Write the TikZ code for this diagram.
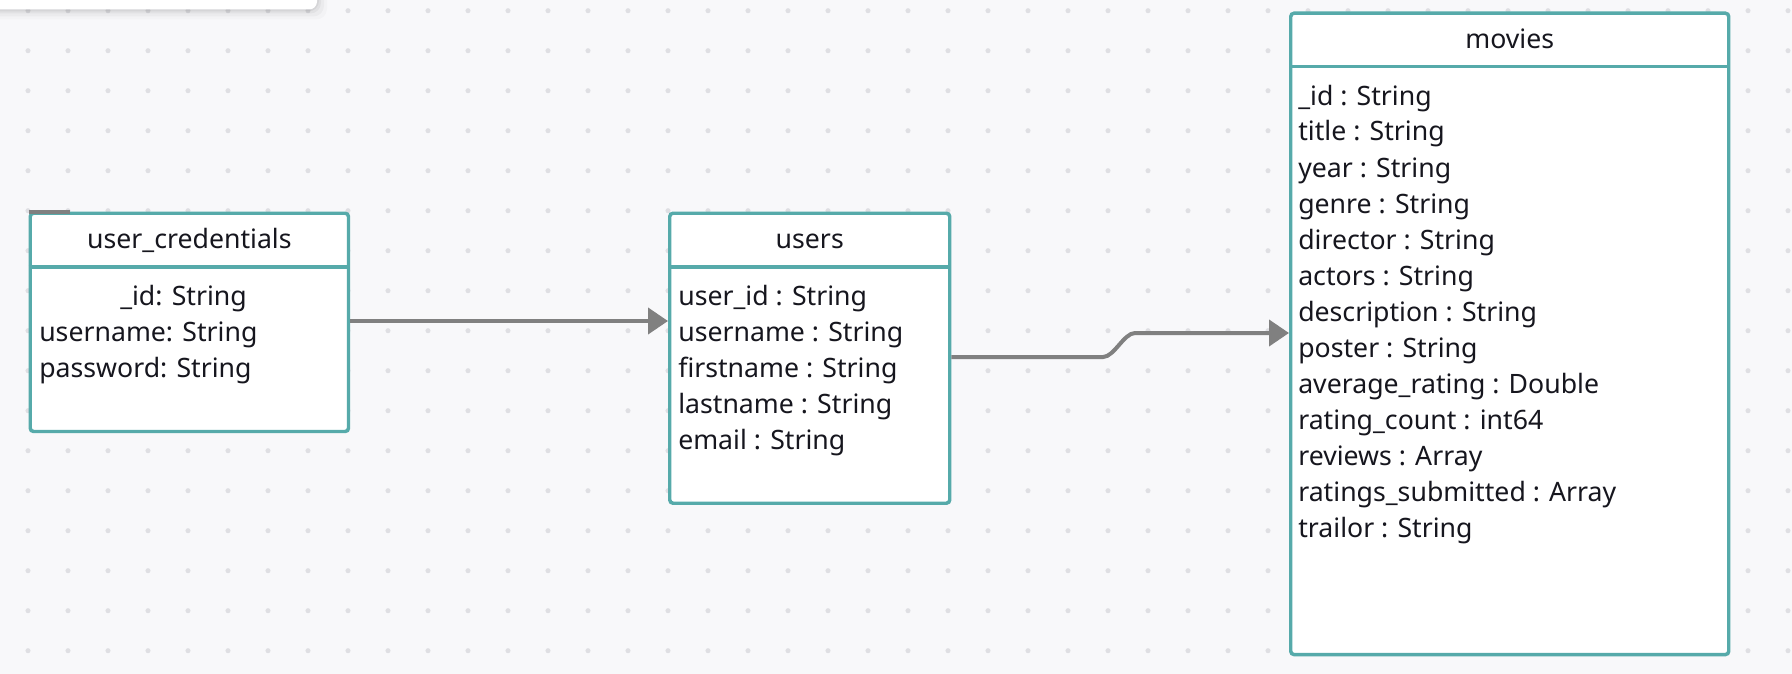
\documentclass[tikz,border=0pt]{standalone}
\usepackage{fontspec}
\setmainfont{Noto Sans}
\usetikzlibrary{arrows.meta}
\definecolor{bgc}{HTML}{F8F8FA}
\definecolor{dotc}{HTML}{DFDFE3}
\definecolor{tealc}{HTML}{56AAAA}
\definecolor{connc}{HTML}{808080}
\definecolor{txtc}{HTML}{16161E}
\begin{document}
\begin{tikzpicture}[x=0.75pt,y=-0.75pt,
  tbl/.style={draw=tealc, line width=2.6pt, fill=white, rounded corners=2.5pt, anchor=north west, inner sep=0pt},
  divline/.style={draw=tealc, line width=2.6pt},
  hdr/.style={anchor=base, inner sep=0pt, text=txtc, font=\fontsize{20pt}{27pt}\selectfont},
  fld/.style={anchor=base west, inner sep=0pt, text=txtc, font=\fontsize{20pt}{27pt}\selectfont},
  cn/.style={draw=connc, line width=3pt, -{Triangle[length=15pt,width=19.5pt]}}
]
\useasboundingbox (0,0) rectangle (1792,674);
\fill[bgc] (0,0) rectangle (1792,674);
% dot grid
\foreach \i in {0,...,44}{
  \foreach \j in {0,...,16}{
    \fill[dotc] (28+40*\i,10.7+40*\j) circle[radius=1.9pt];
  }
}
% top-left panel with soft shadow
\foreach \s/\o in {10/0.02,7/0.03,4/0.04,2/0.05}{
  \fill[black, opacity=\o, rounded corners=8pt] (-20,-20) rectangle (317+\s,9.5+\s);
}
\fill[white, rounded corners=6pt] (-20,-20) rectangle (317,9.5);

% tables
\node[tbl, minimum width=238.7pt, minimum height=163.7pt] (uc) at (28.5,211.5) {};
\node[tbl, minimum width=210pt, minimum height=217.5pt] (users) at (668,211.5) {};
\node[tbl, minimum width=328.5pt, minimum height=481pt] (movies) at (1289,11.5) {};
\draw[divline] (uc.west |- 0,267) -- (uc.east |- 0,267);
\draw[divline] (users.west |- 0,267) -- (users.east |- 0,267);
\draw[divline] (movies.west |- 0,66.6) -- (movies.east |- 0,66.6);
\draw[connc, line width=3pt] (uc.north west) -- ++(41,0);

% headers
\node[hdr] (uch) at (uc.north |- 0,248) {user\_credentials};
\node[hdr] (ush) at (users.north |- 0,248) {users};
\node[hdr] (mvh) at (movies.north |- 0,49) {movies};

% fields
\node[fld] (uc1) at (120,305) {\_id: String};
\node[fld] (uc2) at (39,341) {username: String};
\node[fld] (uc3) at (39,377) {password: String};

\foreach \t [count=\k] in {user\_id : String, username : String, firstname : String, lastname : String, email : String}{
  \node[fld] (us\k) at (678,305+36*\k-36) {\t};
}
\foreach \t [count=\k] in {\_id : String, title : String, year : String, genre : String, director : String, actors : String, description : String, poster : String, average\_rating : Double, rating\_count : int64, reviews : Array, ratings\_submitted : Array, trailor : String}{
  \node[fld] (mv\k) at (1298,105+36*\k-36) {\t};
}

% connectors
\coordinate (b1) at (1103,357);
\coordinate (b2) at (1135,333);
\draw[cn] (uc.east |- 0,321) -- (users.west |- 0,321);
\draw[cn] (users.east |- 0,357) -- (b1) .. controls (1114,357) and (1124,333) .. (b2) -- (movies.west |- 0,333);
\end{tikzpicture}
\end{document}
